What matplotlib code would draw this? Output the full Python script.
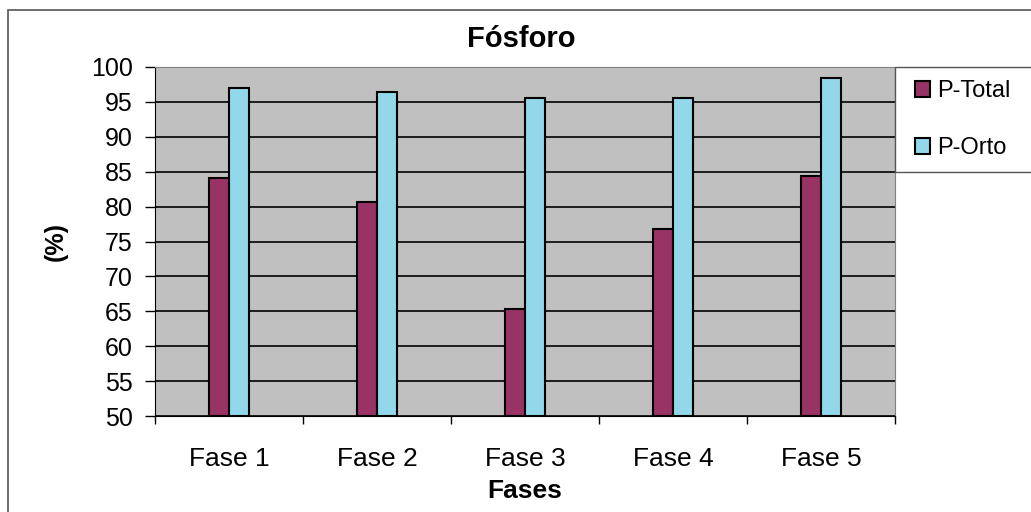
import matplotlib
matplotlib.use('Agg')
import matplotlib.pyplot as plt
from matplotlib.patches import Rectangle
import numpy as np

categories = ['Fase 1', 'Fase 2', 'Fase 3', 'Fase 4', 'Fase 5']
p_total = [84.1, 80.7, 65.3, 76.8, 84.4]
p_orto = [97.0, 96.4, 95.6, 95.6, 98.4]
series_names = ['P-Total', 'P-Orto']
yticks = list(range(50, 101, 5))

plt.rcParams['font.family'] = ['Liberation Sans', 'DejaVu Sans']

W, H = 1031, 512
fig = plt.figure(figsize=(W / 100, H / 100), dpi=100)
ax = fig.add_axes([155 / W, 1 - 416 / H, (895 - 155) / W, (416 - 67) / H])

# outer chart frame (runs off the right / bottom of the scan)
fig.patches.append(Rectangle((8 / W, -0.1), 1.2, 1 - 10 / H + 0.1,
                             transform=fig.transFigure, fill=False,
                             edgecolor='#555555', linewidth=1.2))

x = np.arange(len(categories))
bw = 0.137
ax.set_facecolor('#c0c0c0')
b1 = ax.bar(x - bw / 2, np.array(p_total) - 50, bw, bottom=50, color='#993366',
            edgecolor='black', linewidth=1.5, label=series_names[0], zorder=3)
b2 = ax.bar(x + bw / 2, np.array(p_orto) - 50, bw, bottom=50, color='#92d8ea',
            edgecolor='black', linewidth=1.5, label=series_names[1], zorder=3)

ax.set_ylim(50, 100)
ax.set_xlim(-0.5, 4.5)
ax.set_yticks(yticks)
ax.yaxis.grid(True, color='black', linewidth=1.2, zorder=1)
ax.set_axisbelow(True)
ax.tick_params(axis='y', labelsize=18, length=7, width=1, direction='out', pad=9)

ax.set_xticks(x)
ax.set_xticklabels(categories, fontsize=19)
ax.tick_params(axis='x', which='major', length=0, pad=22)
ax.set_xticks(np.arange(-0.5, 5, 1), minor=True)
ax.tick_params(axis='x', which='minor', length=6, width=1, direction='out')

for s in ['top', 'right']:
    ax.spines[s].set_color('#808080')
ax.spines['left'].set_color('black')
ax.spines['bottom'].set_color('black')

ax.set_ylabel('(%)', fontsize=18, fontweight='bold', labelpad=17)
ax.set_xlabel('Fases', fontsize=19, fontweight='bold', labelpad=6)
fig.text(521 / W, 1 - 39 / H, 'Fósforo', fontsize=21, fontweight='bold',
         ha='center', va='center')

# legend box
fig.patches.append(Rectangle((895 / W, 1 - 172 / H), 0.2, 105 / H,
                             transform=fig.transFigure, facecolor='white',
                             edgecolor='#555555', linewidth=1.0, zorder=5))
leg = fig.legend(handles=[b1, b2], labels=series_names, loc='upper left',
                 bbox_to_anchor=(915 / W, 1 - 80 / H),
                 bbox_transform=fig.transFigure, frameon=False, fontsize=17,
                 handlelength=0.65, handleheight=0.65, handletextpad=0.3,
                 labelspacing=1.5, borderpad=0, borderaxespad=0)
leg.set_zorder(10)

fig.savefig('out.png', dpi=100, facecolor='white')
